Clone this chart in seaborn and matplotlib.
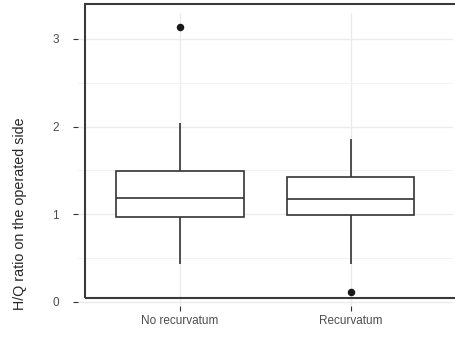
import pandas as pd
import matplotlib
matplotlib.use('Agg')
import matplotlib.pyplot as plt
import matplotlib.patches as mpatches
from matplotlib.ticker import MultipleLocator
import seaborn as sns

# Box statistics
groups = ['No recurvatum', 'Recurvatum']
whisker_lo = [0.43, 0.43]
q1 = [0.97, 0.99]
median = [1.19, 1.17]
q3 = [1.49, 1.43]
whisker_hi = [2.04, 1.855]
outliers = [[3.14], [0.11]]

# Build a small sample per group whose quartiles/whiskers give exactly these boxes
rows = []
for i, g in enumerate(groups):
    vals = [whisker_lo[i], q1[i], q1[i], median[i], median[i],
            q3[i], q3[i], whisker_hi[i]] + outliers[i]
    for v in vals:
        rows.append({'group': g, 'value': v})
df = pd.DataFrame(rows)

sns.set_style('white')
plt.rcParams['font.family'] = ['Liberation Sans', 'DejaVu Sans']

fig = plt.figure(figsize=(4.56, 3.38), dpi=100)
ax = fig.add_axes([77.7 / 456, 32.5 / 338, (452.8 - 77.7) / 456, (305.5 - 13) / 338])

dark = '#333333'
sns.boxplot(data=df, x='group', y='value', order=groups, width=0.75,
            color='white', linecolor=dark, linewidth=1.2,
            capprops={'linewidth': 0},
            flierprops={'marker': 'o', 'markerfacecolor': '#1a1a1a',
                        'markeredgecolor': '#1a1a1a', 'markersize': 4.4},
            ax=ax)

ax.set_xlim(-0.6, 1.6)
ax.set_ylim(-0.04, 3.296)
ax.yaxis.set_major_locator(MultipleLocator(1))
ax.yaxis.set_minor_locator(MultipleLocator(0.5))

ax.grid(True, which='major', color='#ebebeb', linewidth=1.0)
ax.grid(True, which='minor', axis='y', color='#f2f2f2', linewidth=0.7)
ax.set_axisbelow(True)
for s in ax.spines.values():
    s.set_visible(False)

ax.tick_params(axis='both', which='major', length=3.6, width=0.8, color=dark,
               labelsize=8.5, labelcolor='#4d4d4d', left=True, bottom=True)
ax.tick_params(axis='y', which='major', pad=10)
ax.tick_params(axis='x', which='major', pad=3)
ax.tick_params(which='minor', length=0)
ax.set_xlabel('')
ax.set_ylabel('')

# border rectangle (offset from the panel, right side cut off)
rect = mpatches.Rectangle((85 / 456, 40 / 338), 1.0, 294 / 338,
                          transform=fig.transFigure, fill=False,
                          edgecolor='#3a3a3a', linewidth=1.5, zorder=10)
fig.patches.append(rect)

fig.text(20 / 456, 1 - 214 / 338, 'H/Q ratio on the operated side',
         rotation=90, ha='center', va='center', fontsize=10.3, color='#262626')

fig.savefig('out.png', dpi=100)
